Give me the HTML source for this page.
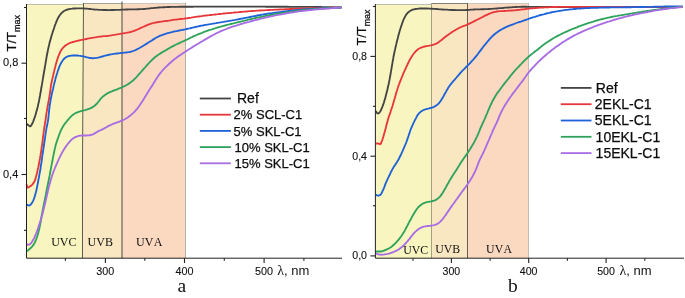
<!DOCTYPE html>
<html><head><meta charset="utf-8"><title>UV transmittance</title>
<style>html,body{margin:0;padding:0;background:#fff}body{width:685px;height:298px;overflow:hidden}</style>
</head><body>
<svg width="685" height="298" viewBox="0 0 685 298" style="display:block">
<rect width="685" height="298" fill="#fff"/>
<rect x="26.5" y="4" width="56.5" height="254.2" fill="#f8f5c0"/>
<rect x="83.0" y="3" width="39.0" height="255.2" fill="#f9e7c2"/>
<rect x="122.0" y="3" width="63.5" height="255.2" fill="#fbd8c0"/>
<path d="M26.5,4.5 H83.0" stroke="#bdbdb0" stroke-width="1" fill="none"/>
<path d="M83.0,3.5 H122.0" stroke="#a3a198" stroke-width="1" fill="none"/>
<path d="M122.0,3.5 H185.5" stroke="#cdc6bd" stroke-width="1" fill="none"/>
<path d="M83.5,3 L82.5,160 V258.2" stroke="#5e5b4e" stroke-width="1" fill="none"/>
<path d="M122,1.5 V258.2" stroke="#4a463c" stroke-width="1" fill="none"/>
<path d="M185.5,3 V258.2" stroke="#b5b0ab" stroke-width="1" fill="none"/>
<path d="M26.7,123.7 27.7,124.8 29.0,125.7 30.3,126.4 31.2,125.6 32.0,124.0 32.7,122.7 33.3,121.3 33.8,119.9 34.3,118.5 34.8,117.1 35.3,115.6 35.7,114.2 36.1,112.8 36.5,111.3 36.9,109.9 37.3,108.4 37.7,107.0 38.0,105.5 38.3,104.0 38.7,102.6 39.0,101.1 39.3,99.6 39.5,98.2 39.8,96.7 40.1,95.2 40.3,93.7 40.6,92.3 40.9,90.8 41.1,89.3 41.4,87.8 41.6,86.3 41.9,84.9 42.1,83.4 42.4,81.9 42.6,80.4 42.9,78.9 43.1,77.5 43.4,76.0 43.6,74.5 43.9,73.0 44.1,71.5 44.4,70.1 44.6,68.6 44.9,67.1 45.1,65.6 45.4,64.2 45.6,62.7 45.9,61.2 46.1,59.7 46.4,58.2 46.6,56.8 46.9,55.3 47.2,53.8 47.5,52.3 47.8,50.9 48.1,49.4 48.4,47.9 48.7,46.5 49.1,45.0 49.4,43.5 49.8,42.1 50.2,40.6 50.6,39.2 51.0,37.8 51.4,36.3 51.8,34.9 52.3,33.5 52.7,32.0 53.2,30.6 53.7,29.2 54.2,27.8 54.6,26.3 55.1,24.9 55.7,23.5 56.2,22.1 56.8,20.7 57.4,19.4 58.1,18.0 58.8,16.7 59.6,15.5 60.5,14.3 61.5,13.2 62.5,12.2 63.7,11.3 65.0,10.5 66.3,9.9 67.7,9.5 69.1,9.1 70.6,8.8 72.1,8.7 73.6,8.5 75.1,8.5 76.6,8.4 78.1,8.4 79.6,8.4 81.1,8.4 82.6,8.4 84.1,8.5 85.6,8.6 87.1,8.7 88.6,8.8 90.0,9.0 91.5,9.2 93.0,9.3 94.5,9.5 96.0,9.6 97.5,9.7 99.0,9.8 100.5,9.8 102.0,9.9 103.5,10.0 105.0,10.0 106.5,10.0 108.0,10.1 109.5,10.1 111.0,10.0 112.5,10.0 114.0,10.0 115.5,9.9 117.0,9.9 118.5,9.8 120.0,9.8 121.5,9.7 123.0,9.6 124.5,9.6 126.0,9.5 127.5,9.5 129.0,9.4 130.5,9.4 132.0,9.4 133.5,9.3 135.0,9.3 136.5,9.3 138.0,9.2 139.5,9.2 141.0,9.1 142.5,9.1 144.0,9.0 145.5,8.9 147.0,8.7 148.5,8.6 150.0,8.4 151.4,8.2 152.9,8.1 154.4,7.9 155.9,7.8 157.4,7.6 158.9,7.5 160.4,7.4 161.9,7.3 163.4,7.2 164.9,7.2 166.4,7.1 167.9,7.0 169.4,7.0 170.9,6.9 172.4,6.9 173.9,6.8 175.4,6.8 176.9,6.8 178.4,6.8 179.9,6.7 181.4,6.7 182.9,6.7 184.4,6.7 185.9,6.7 187.4,6.7 188.9,6.7 190.4,6.7 191.9,6.7 193.4,6.7 194.9,6.6 196.4,6.6 197.9,6.6 199.4,6.6 200.9,6.6 202.4,6.6 203.9,6.6 205.4,6.6 206.9,6.6 208.4,6.6 209.9,6.6 211.4,6.6 212.9,6.6 214.4,6.6 215.9,6.6 217.4,6.6 218.9,6.6 220.4,6.6 221.9,6.6 223.4,6.6 224.9,6.6 226.4,6.6 227.9,6.6 229.4,6.6 230.9,6.6 232.4,6.6 233.9,6.6 235.4,6.6 236.9,6.6 238.4,6.6 239.9,6.6 241.4,6.6 242.9,6.6 244.4,6.6 245.9,6.6 247.4,6.6 248.9,6.6 250.4,6.6 251.9,6.6 253.4,6.6 254.9,6.6 256.4,6.6 257.9,6.6 259.4,6.6 260.9,6.6 262.4,6.6 263.9,6.6 265.4,6.7 266.9,6.7 268.4,6.7 269.9,6.7 271.4,6.7 272.9,6.7 274.4,6.7 275.9,6.7 277.4,6.7 278.9,6.7 280.4,6.7 281.9,6.7 283.4,6.7 284.9,6.7 286.4,6.7 287.9,6.7 289.4,6.8 290.9,6.8 292.4,6.8 293.9,6.8 295.4,6.8 296.9,6.8 298.4,6.8 299.9,6.8 301.4,6.8 302.9,6.8 304.4,6.9 305.9,6.9 307.4,6.9 308.9,6.9 310.4,6.9 311.9,6.9 313.4,6.9 314.9,7.0 316.4,7.0 317.9,7.0 319.4,7.0 320.9,7.0 322.4,7.1 323.9,7.1 325.4,7.1 326.9,7.1 328.4,7.1 329.9,7.2 331.4,7.2 332.9,7.2 334.4,7.3 335.9,7.3 337.4,7.3 338.9,7.3 340.4,7.4 341.4,7.4" fill="none" stroke="#444444" stroke-width="1.85" stroke-linejoin="round"/>
<path d="M26.7,184.3 27.0,186.5 27.6,187.6 28.6,187.3 29.9,186.4 31.2,185.6 32.3,184.6 33.2,183.4 34.1,182.1 34.8,180.8 35.3,179.4 35.7,178.0 36.1,176.6 36.5,175.1 36.9,173.6 37.2,172.2 37.5,170.7 37.8,169.2 38.2,167.7 38.5,166.3 38.8,164.8 39.1,163.3 39.3,161.9 39.6,160.4 39.9,158.9 40.1,157.4 40.4,155.9 40.6,154.5 40.9,153.0 41.1,151.5 41.3,150.0 41.5,148.5 41.7,147.0 42.0,145.6 42.2,144.1 42.4,142.6 42.6,141.1 42.7,139.6 42.9,138.1 43.1,136.6 43.3,135.1 43.5,133.6 43.7,132.1 43.8,130.7 44.1,129.2 44.3,127.7 44.5,126.2 44.8,124.7 45.0,123.3 45.3,121.8 45.5,120.3 45.7,118.8 45.9,117.3 46.1,115.8 46.3,114.3 46.5,112.9 46.8,111.4 47.0,109.9 47.3,108.4 47.5,106.9 47.8,105.5 48.1,104.0 48.4,102.5 48.6,101.0 48.9,99.6 49.2,98.1 49.4,96.6 49.6,95.1 49.9,93.6 50.1,92.1 50.3,90.7 50.5,89.2 50.7,87.7 50.9,86.2 51.1,84.7 51.4,83.2 51.7,81.8 52.0,80.3 52.4,78.8 52.7,77.4 53.1,75.9 53.4,74.5 53.7,73.0 54.1,71.5 54.4,70.1 54.8,68.6 55.2,67.2 55.5,65.7 55.9,64.3 56.3,62.8 56.7,61.4 57.2,59.9 57.6,58.5 58.1,57.1 58.6,55.7 59.2,54.3 59.8,52.9 60.4,51.6 61.2,50.3 62.0,49.0 62.9,47.9 64.0,46.8 65.1,45.8 66.3,45.0 67.5,44.2 68.9,43.5 70.2,42.9 71.6,42.4 73.1,42.0 74.5,41.6 76.0,41.2 77.4,40.8 78.9,40.5 80.4,40.2 81.8,39.9 83.3,39.6 84.8,39.3 86.3,39.0 87.7,38.7 89.2,38.4 90.7,38.1 92.1,37.8 93.6,37.6 95.1,37.3 96.6,37.1 98.0,36.8 99.5,36.6 100.9,36.5 102.3,36.3 103.7,36.2 105.2,36.1 106.7,36.0 108.2,35.8 109.6,35.6 111.1,35.4 112.6,35.1 114.1,34.9 115.6,34.6 117.1,34.4 118.5,34.1 120.0,33.9 121.5,33.6 123.0,33.4 124.5,33.1 126.0,32.9 127.4,32.6 128.9,32.3 130.4,32.0 131.8,31.6 133.2,31.2 134.6,30.7 136.0,30.1 137.4,29.5 138.8,28.9 140.1,28.2 141.5,27.6 142.9,27.0 144.2,26.4 145.6,25.8 147.0,25.2 148.4,24.7 149.8,24.2 151.2,23.7 152.7,23.2 154.1,22.9 155.6,22.5 157.0,22.3 158.5,22.0 160.0,21.8 161.5,21.6 163.0,21.4 164.5,21.2 166.0,21.0 167.4,20.8 168.9,20.6 170.4,20.4 171.9,20.1 173.4,19.9 174.9,19.7 176.4,19.6 177.9,19.4 179.3,19.2 180.8,19.0 182.3,18.8 183.8,18.7 185.3,18.5 186.8,18.3 188.3,18.0 189.8,17.8 191.2,17.6 192.7,17.3 194.2,17.1 195.7,16.9 197.2,16.7 198.7,16.5 200.2,16.3 201.6,16.1 203.1,15.9 204.6,15.7 206.1,15.5 207.6,15.3 209.1,15.2 210.6,15.0 212.1,14.8 213.6,14.7 215.1,14.5 216.5,14.3 218.0,14.2 219.5,14.0 221.0,13.8 222.5,13.7 224.0,13.5 225.5,13.4 227.0,13.2 228.5,13.1 230.0,13.0 231.5,12.8 233.0,12.7 234.5,12.5 236.0,12.4 237.5,12.3 239.0,12.1 240.5,12.0 241.9,11.9 243.4,11.7 244.9,11.6 246.4,11.5 247.9,11.4 249.4,11.2 250.9,11.1 252.4,11.0 253.9,10.9 255.4,10.8 256.9,10.7 258.4,10.6 259.9,10.5 261.4,10.4 262.9,10.3 264.4,10.3 265.9,10.2 267.4,10.1 268.9,10.0 270.4,9.9 271.9,9.9 273.4,9.8 274.9,9.7 276.4,9.6 277.9,9.6 279.4,9.5 280.9,9.4 282.4,9.4 283.9,9.3 285.4,9.2 286.9,9.2 288.4,9.1 289.9,9.0 291.4,9.0 292.9,8.9 294.4,8.8 295.9,8.8 297.4,8.7 298.9,8.6 300.4,8.6 301.9,8.5 303.4,8.5 304.9,8.4 306.4,8.4 307.9,8.3 309.4,8.3 310.9,8.2 312.4,8.2 313.9,8.1 315.4,8.1 316.9,8.0 318.4,8.0 319.9,8.0 321.4,7.9 322.9,7.9 324.4,7.8 325.9,7.8 327.4,7.8 328.9,7.7 330.4,7.7 331.9,7.7 333.4,7.6 334.9,7.6 336.4,7.6 337.9,7.6 339.4,7.5 340.9,7.5 341.4,7.5" fill="none" stroke="#e8373b" stroke-width="1.85" stroke-linejoin="round"/>
<path d="M26.7,204.5 28.1,205.4 29.4,205.5 30.6,204.7 31.6,203.4 32.4,202.2 33.1,200.8 33.7,199.4 34.2,198.0 34.7,196.6 35.1,195.1 35.5,193.7 35.9,192.2 36.3,190.8 36.6,189.3 36.9,187.9 37.2,186.4 37.5,184.9 37.8,183.4 38.1,182.0 38.3,180.5 38.6,179.0 38.9,177.5 39.1,176.1 39.4,174.6 39.7,173.1 40.0,171.6 40.2,170.2 40.5,168.7 40.7,167.2 40.9,165.7 41.1,164.2 41.4,162.7 41.6,161.3 41.8,159.8 42.0,158.3 42.2,156.8 42.4,155.3 42.7,153.8 42.9,152.3 43.1,150.9 43.3,149.4 43.6,147.9 43.8,146.4 44.0,144.9 44.2,143.4 44.4,142.0 44.7,140.5 44.9,139.0 45.1,137.5 45.3,136.0 45.5,134.5 45.7,133.0 45.9,131.6 46.2,130.1 46.4,128.6 46.7,127.1 47.0,125.7 47.3,124.2 47.6,122.7 47.9,121.2 48.1,119.8 48.3,118.3 48.5,116.8 48.6,115.3 48.8,113.8 48.9,112.3 49.1,110.8 49.2,109.3 49.4,107.8 49.6,106.4 49.8,104.9 50.1,103.4 50.3,101.9 50.6,100.4 50.8,99.0 51.1,97.5 51.4,96.0 51.7,94.5 52.0,93.1 52.4,91.6 52.7,90.2 53.1,88.7 53.4,87.2 53.7,85.8 54.1,84.3 54.4,82.8 54.8,81.4 55.2,79.9 55.5,78.5 55.9,77.0 56.4,75.6 56.8,74.2 57.3,72.7 57.7,71.3 58.2,69.9 58.7,68.5 59.2,67.1 59.8,65.7 60.4,64.3 61.1,63.0 61.8,61.7 62.7,60.5 63.6,59.3 64.7,58.3 65.8,57.4 67.1,56.7 68.4,56.2 69.9,55.8 71.3,55.6 72.8,55.5 74.3,55.4 75.8,55.5 77.3,55.5 78.8,55.7 80.3,55.8 81.7,56.1 83.2,56.4 84.7,56.7 86.1,57.1 87.6,57.4 89.1,57.8 90.5,58.0 92.0,58.2 93.5,58.2 94.9,58.1 96.4,57.9 97.9,57.7 99.3,57.3 100.8,56.9 102.2,56.5 103.6,56.1 105.1,55.7 106.6,55.3 108.0,55.0 109.5,54.7 111.0,54.4 112.4,54.2 113.9,53.9 115.4,53.7 116.9,53.5 118.4,53.3 119.9,53.1 121.4,52.9 122.9,52.8 124.3,52.6 125.8,52.5 127.3,52.3 128.8,52.1 130.3,51.8 131.7,51.5 133.1,51.0 134.5,50.5 135.9,49.9 137.2,49.2 138.6,48.5 139.9,47.8 141.2,47.0 142.5,46.3 143.7,45.5 145.0,44.7 146.3,43.9 147.6,43.1 148.8,42.3 150.1,41.5 151.4,40.7 152.6,39.9 153.9,39.1 155.2,38.3 156.5,37.5 157.8,36.9 159.1,36.2 160.5,35.6 161.9,35.1 163.3,34.5 164.7,34.1 166.2,33.6 167.6,33.2 169.1,32.8 170.5,32.4 172.0,32.1 173.4,31.7 174.9,31.4 176.4,31.1 177.8,30.8 179.3,30.5 180.8,30.2 182.3,30.0 183.7,29.7 185.2,29.4 186.7,29.0 188.1,28.7 189.6,28.4 191.0,28.0 192.5,27.7 194.0,27.3 195.4,27.0 196.9,26.6 198.4,26.3 199.8,26.0 201.3,25.7 202.8,25.5 204.2,25.2 205.7,24.9 207.2,24.6 208.7,24.4 210.1,24.1 211.6,23.9 213.1,23.6 214.6,23.3 216.1,23.1 217.5,22.8 219.0,22.6 220.5,22.4 222.0,22.1 223.5,21.9 224.9,21.6 226.4,21.4 227.9,21.1 229.4,20.9 230.9,20.6 232.3,20.4 233.8,20.1 235.3,19.9 236.8,19.6 238.2,19.3 239.7,19.0 241.2,18.7 242.7,18.5 244.1,18.2 245.6,17.9 247.1,17.6 248.5,17.3 250.0,17.0 251.5,16.7 252.9,16.4 254.4,16.1 255.9,15.8 257.4,15.5 258.8,15.2 260.3,15.0 261.8,14.7 263.3,14.5 264.7,14.2 266.2,14.0 267.7,13.7 269.2,13.5 270.7,13.3 272.2,13.1 273.6,12.9 275.1,12.7 276.6,12.5 278.1,12.3 279.6,12.1 281.1,11.9 282.6,11.7 284.1,11.5 285.5,11.4 287.0,11.2 288.5,11.0 290.0,10.8 291.5,10.7 293.0,10.5 294.5,10.4 296.0,10.2 297.5,10.0 299.0,9.9 300.5,9.8 302.0,9.6 303.5,9.5 304.9,9.4 306.4,9.2 307.9,9.1 309.4,9.0 310.9,8.9 312.4,8.8 313.9,8.7 315.4,8.6 316.9,8.5 318.4,8.4 319.9,8.4 321.4,8.3 322.9,8.2 324.4,8.1 325.9,8.1 327.4,8.0 328.9,7.9 330.4,7.9 331.9,7.8 333.4,7.8 334.9,7.7 336.4,7.7 337.9,7.6 339.4,7.6 340.9,7.5 341.4,7.5" fill="none" stroke="#1d62d9" stroke-width="1.85" stroke-linejoin="round"/>
<path d="M26.7,251.3 27.9,250.4 29.1,249.4 30.2,248.5 31.3,247.4 32.3,246.3 33.2,245.1 34.1,243.9 34.8,242.6 35.4,241.2 36.0,239.8 36.5,238.4 37.0,237.0 37.5,235.5 37.9,234.1 38.3,232.7 38.7,231.2 39.0,229.8 39.4,228.3 39.7,226.8 40.0,225.4 40.3,223.9 40.6,222.4 40.9,220.9 41.1,219.5 41.4,218.0 41.6,216.5 41.8,215.0 42.1,213.5 42.4,212.1 42.6,210.6 42.9,209.1 43.2,207.6 43.5,206.2 43.8,204.7 44.1,203.2 44.4,201.7 44.7,200.3 45.0,198.8 45.3,197.3 45.6,195.9 45.9,194.4 46.1,192.9 46.4,191.4 46.7,190.0 47.0,188.5 47.3,187.0 47.6,185.5 47.9,184.1 48.2,182.6 48.5,181.1 48.8,179.7 49.1,178.2 49.4,176.7 49.7,175.2 49.9,173.8 50.2,172.3 50.5,170.8 50.8,169.3 51.0,167.9 51.3,166.4 51.6,164.9 51.9,163.4 52.2,162.0 52.5,160.5 52.7,159.0 53.0,157.5 53.3,156.1 53.6,154.6 53.9,153.1 54.2,151.6 54.5,150.2 54.8,148.7 55.2,147.2 55.5,145.8 55.9,144.3 56.4,142.9 56.8,141.5 57.3,140.1 57.8,138.6 58.3,137.2 58.8,135.8 59.3,134.4 59.8,133.0 60.4,131.6 61.0,130.2 61.7,128.9 62.4,127.6 63.1,126.3 63.9,125.0 64.8,123.8 65.7,122.6 66.7,121.5 67.6,120.3 68.6,119.1 69.6,118.0 70.6,116.9 71.7,115.9 72.8,114.9 74.0,114.0 75.3,113.3 76.6,112.6 78.0,112.1 79.4,111.6 80.8,111.2 82.3,110.8 83.7,110.4 85.2,110.1 86.6,109.7 88.1,109.2 89.5,108.7 90.8,108.1 92.1,107.4 93.4,106.6 94.6,105.7 95.7,104.7 96.8,103.7 97.7,102.5 98.7,101.4 99.6,100.2 100.5,99.0 101.5,97.9 102.6,96.9 103.7,95.9 104.9,95.0 106.1,94.2 107.4,93.4 108.8,92.7 110.1,92.1 111.5,91.5 112.9,90.9 114.3,90.3 115.7,89.8 117.1,89.3 118.5,88.7 119.9,88.2 121.3,87.6 122.6,87.0 124.0,86.4 125.3,85.7 126.6,85.0 127.9,84.2 129.2,83.4 130.4,82.5 131.6,81.6 132.8,80.7 133.9,79.7 134.9,78.6 136.0,77.6 137.0,76.5 138.0,75.4 139.0,74.2 140.0,73.1 141.0,72.0 142.0,70.9 143.0,69.7 144.0,68.6 145.0,67.5 146.0,66.3 147.0,65.2 148.0,64.1 149.0,63.0 150.0,61.9 151.1,60.8 152.1,59.8 153.3,58.8 154.4,57.8 155.5,56.8 156.7,55.9 157.9,55.0 159.2,54.2 160.4,53.4 161.7,52.6 163.0,51.8 164.3,51.1 165.6,50.3 166.9,49.6 168.2,48.8 169.5,48.1 170.8,47.3 172.1,46.6 173.5,45.9 174.8,45.2 176.1,44.5 177.5,43.9 178.8,43.3 180.2,42.6 181.6,42.0 182.9,41.4 184.3,40.8 185.7,40.1 187.0,39.5 188.4,38.8 189.7,38.2 191.1,37.5 192.4,36.9 193.8,36.2 195.2,35.6 196.5,35.0 197.9,34.4 199.3,33.8 200.7,33.3 202.1,32.8 203.5,32.2 204.9,31.7 206.3,31.2 207.7,30.7 209.2,30.2 210.6,29.7 212.0,29.3 213.4,28.8 214.9,28.4 216.3,27.9 217.7,27.5 219.2,27.1 220.6,26.7 222.1,26.3 223.5,25.9 225.0,25.5 226.4,25.1 227.9,24.7 229.3,24.4 230.8,24.0 232.2,23.6 233.7,23.3 235.1,22.9 236.6,22.6 238.1,22.2 239.5,21.8 241.0,21.5 242.4,21.1 243.9,20.8 245.4,20.4 246.8,20.1 248.3,19.7 249.7,19.4 251.2,19.0 252.7,18.7 254.1,18.4 255.6,18.0 257.1,17.7 258.5,17.4 260.0,17.1 261.5,16.8 262.9,16.5 264.4,16.2 265.9,15.9 267.4,15.6 268.8,15.3 270.3,15.0 271.8,14.8 273.3,14.5 274.7,14.2 276.2,14.0 277.7,13.7 279.2,13.5 280.7,13.2 282.1,13.0 283.6,12.8 285.1,12.5 286.6,12.3 288.1,12.1 289.6,11.9 291.0,11.7 292.5,11.5 294.0,11.3 295.5,11.1 297.0,10.9 298.5,10.7 300.0,10.6 301.5,10.4 303.0,10.2 304.5,10.1 306.0,9.9 307.4,9.8 308.9,9.6 310.4,9.5 311.9,9.4 313.4,9.2 314.9,9.1 316.4,9.0 317.9,8.9 319.4,8.8 320.9,8.7 322.4,8.6 323.9,8.5 325.4,8.4 326.9,8.3 328.4,8.2 329.9,8.1 331.4,8.0 332.9,7.9 334.4,7.8 335.9,7.8 337.4,7.7 338.9,7.6 340.4,7.5 341.4,7.5" fill="none" stroke="#2fa35c" stroke-width="1.85" stroke-linejoin="round"/>
<path d="M26.7,243.6 27.7,244.9 29.0,244.7 30.3,243.9 31.3,242.8 32.2,241.6 32.9,240.2 33.7,238.9 34.4,237.6 35.0,236.2 35.6,234.8 36.2,233.4 36.7,232.0 37.2,230.6 37.7,229.2 38.2,227.8 38.7,226.4 39.1,224.9 39.6,223.5 40.0,222.1 40.5,220.6 40.9,219.2 41.3,217.7 41.7,216.3 42.2,214.9 42.6,213.4 43.0,212.0 43.3,210.5 43.7,209.1 44.1,207.6 44.4,206.2 44.8,204.7 45.1,203.2 45.4,201.8 45.8,200.3 46.1,198.8 46.5,197.4 46.8,195.9 47.1,194.4 47.5,193.0 47.8,191.5 48.1,190.1 48.5,188.6 48.8,187.1 49.2,185.7 49.6,184.2 50.0,182.8 50.4,181.3 50.8,179.9 51.2,178.5 51.7,177.0 52.1,175.6 52.6,174.2 53.1,172.8 53.6,171.4 54.2,170.0 54.7,168.6 55.3,167.2 55.9,165.8 56.5,164.4 57.1,163.0 57.7,161.7 58.3,160.3 58.9,158.9 59.6,157.6 60.2,156.2 60.9,154.9 61.6,153.6 62.3,152.3 63.1,150.9 63.8,149.7 64.6,148.4 65.5,147.1 66.3,145.9 67.2,144.7 68.1,143.5 69.1,142.3 70.1,141.2 71.1,140.1 72.2,139.1 73.4,138.2 74.6,137.4 75.9,136.8 77.3,136.3 78.7,135.9 80.2,135.7 81.7,135.6 83.2,135.5 84.7,135.5 86.2,135.5 87.7,135.4 89.2,135.3 90.6,135.0 92.0,134.7 93.4,134.1 94.7,133.4 95.9,132.6 97.2,131.9 98.5,131.1 99.8,130.5 101.1,129.9 102.4,129.3 103.8,128.6 105.1,127.9 106.4,127.2 107.7,126.4 109.0,125.7 110.4,125.1 111.7,124.5 113.1,123.9 114.5,123.3 115.9,122.8 117.3,122.3 118.7,121.8 120.1,121.3 121.5,120.7 122.9,120.1 124.3,119.5 125.6,118.8 126.9,118.0 128.1,117.2 129.3,116.3 130.5,115.4 131.6,114.4 132.8,113.4 133.9,112.4 134.9,111.3 135.9,110.2 136.9,109.1 137.8,107.9 138.7,106.7 139.5,105.5 140.4,104.2 141.2,103.0 142.0,101.7 142.8,100.5 143.7,99.2 144.4,97.9 145.2,96.6 146.0,95.4 146.8,94.1 147.6,92.8 148.4,91.5 149.1,90.2 149.9,89.0 150.7,87.7 151.6,86.4 152.4,85.2 153.2,83.9 154.0,82.6 154.8,81.3 155.6,80.1 156.4,78.8 157.2,77.5 158.0,76.3 158.8,75.1 159.7,73.9 160.7,72.7 161.6,71.5 162.6,70.4 163.6,69.3 164.7,68.2 165.7,67.1 166.8,66.1 167.9,65.0 168.9,64.0 170.1,63.0 171.2,62.0 172.3,61.0 173.5,60.0 174.6,59.1 175.8,58.2 177.0,57.3 178.2,56.4 179.5,55.6 180.7,54.7 181.9,53.9 183.2,53.0 184.5,52.2 185.7,51.4 187.0,50.6 188.2,49.8 189.5,49.0 190.8,48.2 192.1,47.4 193.3,46.6 194.6,45.8 195.9,45.0 197.2,44.2 198.5,43.5 199.7,42.7 201.0,41.9 202.3,41.2 203.6,40.4 204.9,39.6 206.2,38.9 207.5,38.1 208.8,37.4 210.1,36.6 211.4,35.9 212.7,35.2 214.0,34.5 215.4,33.8 216.7,33.1 218.0,32.5 219.4,31.9 220.8,31.2 222.1,30.6 223.5,30.1 224.9,29.5 226.3,29.0 227.7,28.4 229.1,27.9 230.5,27.4 231.9,26.9 233.3,26.4 234.8,26.0 236.2,25.5 237.6,25.1 239.1,24.6 240.5,24.2 241.9,23.8 243.4,23.4 244.8,22.9 246.3,22.5 247.7,22.1 249.2,21.8 250.6,21.4 252.1,21.0 253.5,20.6 255.0,20.2 256.4,19.8 257.9,19.5 259.3,19.1 260.8,18.7 262.2,18.4 263.7,18.0 265.1,17.7 266.6,17.3 268.1,17.0 269.5,16.7 271.0,16.4 272.5,16.0 273.9,15.7 275.4,15.4 276.9,15.1 278.4,14.9 279.8,14.6 281.3,14.3 282.8,14.0 284.3,13.8 285.7,13.5 287.2,13.2 288.7,13.0 290.2,12.7 291.7,12.5 293.1,12.3 294.6,12.1 296.1,11.8 297.6,11.6 299.1,11.4 300.6,11.2 302.0,11.0 303.5,10.8 305.0,10.7 306.5,10.5 308.0,10.3 309.5,10.2 311.0,10.0 312.5,9.8 314.0,9.7 315.5,9.6 317.0,9.4 318.5,9.3 320.0,9.2 321.4,9.0 322.9,8.9 324.4,8.8 325.9,8.7 327.4,8.6 328.9,8.5 330.4,8.3 331.9,8.2 333.4,8.1 334.9,8.0 336.4,7.9 337.9,7.8 339.4,7.7 340.9,7.5 341.4,7.5" fill="none" stroke="#a86ce4" stroke-width="1.85" stroke-linejoin="round"/>
<path d="M26.5,4 V258.2 H342" stroke="#222" stroke-width="1" fill="none"/>
<path d="M24.0,7.5 H26.5" stroke="#222" stroke-width="1.1"/>
<path d="M21.5,63.2 H26.5" stroke="#222" stroke-width="1.1"/>
<path d="M24.0,118.5 H26.5" stroke="#222" stroke-width="1.1"/>
<path d="M21.5,174.5 H26.5" stroke="#222" stroke-width="1.1"/>
<path d="M24.0,230.3 H26.5" stroke="#222" stroke-width="1.1"/>
<path d="M65.4,258.2 v2.5" stroke="#222" stroke-width="1.1"/>
<path d="M105.4,258.2 v4.8" stroke="#222" stroke-width="1.1"/>
<path d="M144.8,258.2 v2.5" stroke="#222" stroke-width="1.1"/>
<path d="M184.5,258.2 v4.8" stroke="#222" stroke-width="1.1"/>
<path d="M224.3,258.2 v2.5" stroke="#222" stroke-width="1.1"/>
<path d="M264.1,258.2 v4.8" stroke="#222" stroke-width="1.1"/>
<path d="M303.9,258.2 v2.5" stroke="#222" stroke-width="1.1"/>
<text x="18.3" y="66.1" font-size="11" text-anchor="end" font-family="Liberation Sans, Arial, sans-serif" fill="#111" stroke="#111" stroke-width="0.1">0,8</text>
<text x="18.3" y="177.6" font-size="11" text-anchor="end" font-family="Liberation Sans, Arial, sans-serif" fill="#111" stroke="#111" stroke-width="0.1">0,4</text>
<text transform="translate(15.9,51.5) rotate(-90)" font-size="13" font-family="Liberation Sans, Arial, sans-serif" fill="#0c0c0c" stroke="#0c0c0c" stroke-width="0.25">T/T<tspan font-size="9" dy="3.8">max</tspan></text>
<text x="105.2" y="275.3" font-size="10.8" text-anchor="middle" font-family="Liberation Sans, Arial, sans-serif" fill="#111" stroke="#111" stroke-width="0.1">300</text>
<text x="184.6" y="275.3" font-size="10.8" text-anchor="middle" font-family="Liberation Sans, Arial, sans-serif" fill="#111" stroke="#111" stroke-width="0.1">400</text>
<text x="264.1" y="275.3" font-size="10.8" text-anchor="middle" font-family="Liberation Sans, Arial, sans-serif" fill="#111" stroke="#111" stroke-width="0.1">500</text>
<text x="277.3" y="275.3" font-size="14" font-family="Liberation Serif, Times New Roman, serif" fill="#111">λ<tspan font-family="Liberation Sans, Arial, sans-serif" font-size="13">, nm</tspan></text>
<text x="181.8" y="292" font-size="19.5" text-anchor="middle" font-family="Liberation Serif, Times New Roman, serif" fill="#111">a</text>
<text x="51.2" y="245.8" font-size="12" font-family="Liberation Serif, Times New Roman, serif" fill="#111">UVC</text>
<text x="87.6" y="245.8" font-size="12" font-family="Liberation Serif, Times New Roman, serif" fill="#111">UVB</text>
<text x="136" y="245.8" font-size="12" style="font-kerning:none" letter-spacing="0.2" font-family="Liberation Serif, Times New Roman, serif" fill="#111">UVA</text>
<path d="M199.8,98.5 H230.9" stroke="#444444" stroke-width="1.8"/>
<text x="237.0" y="103.4" font-size="14" font-family="Liberation Sans, Arial, sans-serif" fill="#0c0c0c" stroke="#0c0c0c" stroke-width="0.25">Ref</text>
<path d="M199.8,114.7 H230.9" stroke="#e8373b" stroke-width="1.8"/>
<text x="233.6" y="119.3" font-size="13" font-family="Liberation Sans, Arial, sans-serif" fill="#0c0c0c" stroke="#0c0c0c" stroke-width="0.25">2% SCL-C1</text>
<path d="M199.8,130.9 H230.9" stroke="#1d62d9" stroke-width="1.8"/>
<text x="233.6" y="135.5" font-size="13" font-family="Liberation Sans, Arial, sans-serif" fill="#0c0c0c" stroke="#0c0c0c" stroke-width="0.25">5% SKL-C1</text>
<path d="M199.8,147.1 H230.9" stroke="#2fa35c" stroke-width="1.8"/>
<text x="234.5" y="151.7" font-size="13" font-family="Liberation Sans, Arial, sans-serif" fill="#0c0c0c" stroke="#0c0c0c" stroke-width="0.25">10% SKL-C1</text>
<path d="M199.8,163.3 H230.9" stroke="#a86ce4" stroke-width="1.8"/>
<text x="234.5" y="167.9" font-size="13" font-family="Liberation Sans, Arial, sans-serif" fill="#0c0c0c" stroke="#0c0c0c" stroke-width="0.25">15% SKL-C1</text>
<rect x="375.4" y="4" width="56.10000000000002" height="254.2" fill="#f8f5c0"/>
<rect x="431.5" y="3" width="36.0" height="255.2" fill="#f9e7c2"/>
<rect x="467.5" y="3" width="61.0" height="255.2" fill="#fbd8c0"/>
<path d="M375.4,4.5 H431.5" stroke="#bdbdb0" stroke-width="1" fill="none"/>
<path d="M431.5,3.5 H467.5" stroke="#7f7d75" stroke-width="1" fill="none"/>
<path d="M467.5,3.5 H528.5" stroke="#cdc6bd" stroke-width="1" fill="none"/>
<path d="M431.5,3 V258.2" stroke="#a5a085" stroke-width="1" fill="none"/>
<path d="M467.5,3 V258.2" stroke="#665c58" stroke-width="1" fill="none"/>
<path d="M528.5,3 V258.2" stroke="#c0bcb6" stroke-width="1" fill="none"/>
<path d="M375.7,111.0 376.7,112.8 377.8,113.5 378.9,113.2 379.9,112.0 380.7,110.8 381.3,109.4 381.9,107.9 382.5,106.5 383.0,105.1 383.5,103.7 384.0,102.3 384.4,100.8 384.8,99.4 385.3,98.0 385.6,96.5 386.0,95.1 386.4,93.6 386.8,92.1 387.1,90.7 387.5,89.2 387.8,87.8 388.1,86.3 388.5,84.8 388.8,83.4 389.1,81.9 389.4,80.4 389.7,78.9 389.9,77.5 390.2,76.0 390.5,74.5 390.7,73.0 391.0,71.5 391.2,70.1 391.5,68.6 391.7,67.1 392.0,65.6 392.2,64.1 392.5,62.7 392.7,61.2 393.0,59.7 393.3,58.2 393.5,56.8 393.8,55.3 394.1,53.8 394.4,52.3 394.7,50.9 395.1,49.4 395.4,47.9 395.7,46.5 396.1,45.0 396.4,43.6 396.8,42.1 397.1,40.6 397.5,39.2 397.9,37.7 398.2,36.3 398.6,34.8 399.0,33.4 399.4,31.9 399.8,30.5 400.3,29.0 400.7,27.6 401.2,26.2 401.7,24.7 402.2,23.3 402.7,21.9 403.2,20.5 403.8,19.1 404.5,17.7 405.2,16.4 405.9,15.1 406.8,13.9 407.7,12.8 408.8,11.9 410.0,11.0 411.3,10.3 412.6,9.7 414.1,9.3 415.5,9.0 417.0,8.8 418.5,8.6 420.0,8.5 421.5,8.5 423.0,8.5 424.5,8.5 426.0,8.5 427.5,8.5 429.0,8.6 430.5,8.7 432.0,8.7 433.5,8.8 435.0,8.9 436.5,9.0 438.0,9.1 439.5,9.3 441.0,9.4 442.5,9.5 444.0,9.6 445.5,9.6 447.0,9.7 448.5,9.8 450.0,9.9 451.5,10.0 453.0,10.0 454.5,10.0 456.0,10.1 457.5,10.1 459.0,10.1 460.5,10.1 462.0,10.1 463.5,10.1 465.0,10.1 466.5,10.0 468.0,10.0 469.5,9.9 471.0,9.7 472.5,9.6 474.0,9.5 475.5,9.4 477.0,9.4 478.5,9.3 480.0,9.3 481.5,9.2 483.0,9.2 484.5,9.2 486.0,9.1 487.5,9.1 489.0,9.0 490.5,8.9 492.0,8.8 493.5,8.7 495.0,8.6 496.5,8.5 498.0,8.4 499.5,8.2 501.0,8.1 502.4,8.0 503.9,7.8 505.4,7.7 506.9,7.6 508.4,7.5 509.9,7.4 511.4,7.3 512.9,7.2 514.4,7.1 515.9,7.0 517.4,6.9 518.9,6.8 520.4,6.8 521.9,6.7 523.4,6.7 524.9,6.7 526.4,6.7 527.9,6.8 529.4,6.8 530.9,6.8 532.4,6.9 533.9,6.9 535.4,6.9 536.9,7.0 538.4,7.0 539.9,7.0 541.4,7.0 542.9,7.0 544.5,7.0 546.0,7.0 547.5,7.0 549.0,7.0 550.5,7.0 552.0,7.0 553.5,7.0 555.0,7.0 556.5,7.0 558.0,7.0 559.5,7.0 561.0,7.0 562.5,7.0 564.0,7.0 565.5,7.0 567.0,7.0 568.5,7.0 570.0,7.0 571.5,7.0 573.0,7.0 574.5,7.0 576.0,7.0 577.5,7.0 579.0,7.0 580.5,7.0 582.0,7.0 583.5,7.0 585.0,7.0 586.5,7.0 588.0,7.0 589.5,7.0 591.0,7.0 592.5,7.0 594.0,7.0 595.5,7.0 597.0,7.0 598.5,7.0 600.0,7.0 601.5,7.0 603.0,7.0 604.5,7.0 606.0,7.0 607.5,7.0 609.0,7.0 610.5,7.0 612.0,7.0 613.5,7.0 615.0,7.0 616.5,7.0 618.0,7.0 619.5,7.0 621.0,7.0 622.5,7.0 624.0,7.0 625.5,7.0 627.0,7.0 628.5,7.0 630.0,7.0 631.5,7.0 633.0,7.0 634.5,7.0 636.0,7.0 637.6,7.0 639.1,7.0 640.6,7.0 642.1,7.0 643.6,7.0 645.1,7.0 646.6,7.0 648.1,7.0 649.6,7.0 651.1,7.0 652.6,7.0 654.1,7.0 655.6,7.0 657.1,7.0 658.6,7.0 660.1,7.0 661.6,7.0 663.1,7.0 664.6,7.0 666.1,7.0 667.6,7.0 669.1,7.0 670.6,7.0 672.1,7.0 673.6,7.0 675.1,7.0 676.6,7.0 678.1,7.0 679.6,7.0 681.1,7.0 682.6,7.0" fill="none" stroke="#444444" stroke-width="1.85" stroke-linejoin="round"/>
<path d="M375.7,143.5 377.2,143.5 378.7,143.6 380.1,144.2 381.0,143.5 381.5,141.9 382.1,140.5 382.6,139.1 383.0,137.6 383.5,136.2 383.9,134.8 384.3,133.3 384.7,131.9 385.1,130.4 385.5,129.0 385.9,127.5 386.2,126.1 386.6,124.6 387.0,123.2 387.4,121.7 387.8,120.3 388.2,118.8 388.6,117.4 389.1,116.0 389.6,114.6 390.1,113.2 390.6,111.7 391.0,110.3 391.5,108.9 392.0,107.5 392.5,106.0 392.9,104.6 393.3,103.2 393.7,101.7 394.1,100.3 394.6,98.8 395.0,97.4 395.4,95.9 395.8,94.5 396.2,93.1 396.6,91.6 397.1,90.2 397.5,88.8 398.0,87.3 398.4,85.9 399.0,84.5 399.5,83.1 400.0,81.7 400.6,80.3 401.2,78.9 401.7,77.5 402.3,76.1 402.8,74.8 403.4,73.4 404.0,72.0 404.6,70.6 405.3,69.3 405.9,67.9 406.5,66.5 407.2,65.2 407.8,63.8 408.5,62.5 409.1,61.1 409.8,59.8 410.5,58.5 411.3,57.2 412.1,55.9 412.9,54.7 413.8,53.5 414.8,52.3 415.8,51.2 416.9,50.2 418.0,49.3 419.3,48.5 420.6,47.8 421.9,47.3 423.4,46.8 424.8,46.5 426.3,46.2 427.8,45.9 429.2,45.7 430.7,45.4 432.2,45.1 433.6,44.7 435.0,44.2 436.3,43.6 437.6,42.9 438.9,42.0 440.0,41.1 441.2,40.2 442.4,39.2 443.6,38.3 444.7,37.3 445.9,36.4 447.1,35.5 448.3,34.7 449.6,33.8 450.8,33.0 452.0,32.1 453.3,31.3 454.6,30.5 455.8,29.7 457.1,29.0 458.5,28.3 459.8,27.6 461.2,27.0 462.6,26.4 464.0,25.9 465.4,25.4 466.8,24.8 468.1,24.2 469.5,23.6 470.8,22.9 472.2,22.3 473.5,21.6 474.8,20.9 476.2,20.2 477.5,19.5 478.9,18.9 480.2,18.2 481.5,17.5 482.9,16.8 484.2,16.1 485.5,15.4 486.9,14.8 488.3,14.2 489.6,13.6 491.0,13.0 492.4,12.5 493.9,12.1 495.3,11.8 496.8,11.5 498.3,11.4 499.8,11.2 501.3,11.1 502.8,11.1 504.3,11.0 505.8,10.9 507.3,10.8 508.8,10.7 510.3,10.6 511.8,10.5 513.2,10.4 514.7,10.3 516.2,10.1 517.7,10.0 519.2,9.8 520.7,9.6 522.2,9.4 523.7,9.3 525.2,9.1 526.7,8.9 528.2,8.7 529.6,8.6 531.1,8.4 532.6,8.3 534.1,8.1 535.6,8.0 537.1,7.9 538.6,7.8 540.1,7.7 541.6,7.6 543.1,7.5 544.6,7.4 546.1,7.3 547.6,7.2 549.1,7.2 550.6,7.1 552.1,7.1 553.6,7.0 555.1,7.0 556.6,7.0 558.1,6.9 559.6,6.9 561.1,6.9 562.6,6.9 564.1,6.9 565.6,6.9 567.1,6.9 568.6,6.9 570.1,6.9 571.6,6.9 573.1,6.9 574.6,6.9 576.1,6.9 577.6,6.9 579.1,6.9 580.6,7.0 582.1,7.0 583.6,7.0 585.1,7.0 586.6,7.0 588.1,7.0 589.6,7.0 591.1,7.0 592.6,7.0 594.1,7.0 595.6,7.0 597.1,7.0 598.6,7.0 600.1,7.0 601.6,7.0 603.1,7.0 604.6,7.0 606.1,7.0 607.6,7.0 609.1,7.0 610.6,7.0 612.1,7.0 613.6,7.0 615.1,7.0 616.6,7.0 618.1,7.0 619.6,7.0 621.1,7.0 622.6,7.0 624.1,7.0 625.6,7.0 627.1,7.0 628.6,7.0 630.1,7.0 631.6,7.0 633.1,7.0 634.6,7.0 636.1,7.0 637.6,7.0 639.1,7.0 640.6,7.0 642.1,7.0 643.6,7.0 645.1,7.0 646.6,7.0 648.1,7.0 649.6,7.0 651.1,7.0 652.6,7.0 654.1,7.0 655.6,7.0 657.1,7.0 658.6,7.0 660.1,7.0 661.6,7.0 663.1,7.0 664.6,7.0 666.1,7.0 667.6,7.0 669.1,7.0 670.6,7.0 672.1,7.0 673.6,7.0 675.1,7.0 676.6,7.0 678.1,7.0 679.6,7.0 681.1,7.0 682.6,7.0" fill="none" stroke="#e8373b" stroke-width="1.85" stroke-linejoin="round"/>
<path d="M375.7,194.4 377.0,195.4 378.4,195.7 379.8,195.2 380.8,194.4 381.6,193.2 382.3,191.7 383.0,190.2 383.6,188.8 384.2,187.4 384.7,186.0 385.2,184.6 385.8,183.2 386.3,181.8 387.0,180.4 387.6,179.1 388.3,177.7 388.9,176.4 389.6,175.0 390.2,173.7 390.8,172.3 391.5,171.0 392.2,169.6 392.9,168.4 393.7,167.1 394.5,165.8 395.4,164.6 396.2,163.3 397.0,162.0 397.7,160.8 398.5,159.5 399.2,158.1 399.9,156.8 400.5,155.5 401.2,154.1 401.8,152.7 402.4,151.4 403.0,150.0 403.6,148.6 404.2,147.2 404.8,145.9 405.4,144.5 406.0,143.1 406.5,141.7 407.0,140.3 407.5,138.9 408.0,137.5 408.5,136.0 408.9,134.6 409.4,133.2 409.9,131.8 410.4,130.3 410.9,128.9 411.5,127.5 412.1,126.2 412.7,124.8 413.3,123.4 414.0,122.1 414.6,120.7 415.3,119.4 416.0,118.1 416.7,116.7 417.4,115.4 418.3,114.2 419.2,113.1 420.3,112.1 421.4,111.2 422.7,110.5 424.0,109.8 425.4,109.4 426.9,108.9 428.3,108.6 429.8,108.2 431.2,107.8 432.7,107.4 434.0,106.8 435.3,106.1 436.6,105.3 437.7,104.4 438.8,103.3 439.7,102.2 440.6,101.0 441.4,99.8 442.2,98.5 443.0,97.2 443.7,95.9 444.4,94.5 445.1,93.2 445.9,91.9 446.6,90.6 447.4,89.3 448.1,88.0 448.9,86.8 449.8,85.5 450.7,84.3 451.6,83.2 452.6,82.0 453.5,80.9 454.5,79.8 455.5,78.6 456.5,77.5 457.5,76.3 458.5,75.2 459.4,74.1 460.4,72.9 461.4,71.8 462.5,70.7 463.5,69.7 464.6,68.6 465.6,67.5 466.7,66.5 467.8,65.4 468.8,64.4 469.9,63.3 470.9,62.2 471.9,61.1 472.9,60.0 473.9,58.9 474.9,57.7 475.8,56.6 476.8,55.4 477.7,54.2 478.6,53.0 479.5,51.8 480.4,50.6 481.3,49.4 482.2,48.2 483.1,47.0 484.0,45.8 485.0,44.7 485.9,43.5 486.9,42.3 487.9,41.2 488.8,40.1 489.8,38.9 490.8,37.8 491.9,36.7 492.9,35.7 494.0,34.7 495.2,33.7 496.4,32.8 497.6,31.9 498.8,31.1 500.1,30.3 501.4,29.5 502.7,28.8 504.0,28.1 505.4,27.4 506.7,26.8 508.1,26.2 509.5,25.7 510.9,25.1 512.3,24.6 513.7,24.1 515.1,23.5 516.5,23.0 517.9,22.5 519.4,22.0 520.8,21.6 522.2,21.1 523.6,20.6 525.0,20.1 526.5,19.6 527.9,19.2 529.3,18.7 530.7,18.2 532.2,17.7 533.6,17.2 535.0,16.8 536.4,16.3 537.9,15.9 539.3,15.4 540.7,15.0 542.2,14.6 543.6,14.3 545.1,13.9 546.6,13.5 548.0,13.2 549.5,12.9 550.9,12.5 552.4,12.2 553.9,11.9 555.3,11.6 556.8,11.3 558.3,11.1 559.8,10.8 561.2,10.6 562.7,10.4 564.2,10.1 565.7,9.9 567.2,9.8 568.7,9.6 570.2,9.4 571.6,9.3 573.1,9.1 574.6,9.0 576.1,8.9 577.6,8.7 579.1,8.6 580.6,8.5 582.1,8.4 583.6,8.3 585.1,8.2 586.6,8.1 588.1,8.1 589.6,8.0 591.1,7.9 592.6,7.9 594.1,7.8 595.6,7.8 597.1,7.7 598.6,7.7 600.1,7.6 601.6,7.6 603.1,7.6 604.6,7.5 606.1,7.5 607.6,7.5 609.1,7.5 610.6,7.4 612.1,7.4 613.6,7.4 615.1,7.4 616.6,7.4 618.1,7.3 619.6,7.3 621.1,7.3 622.6,7.3 624.1,7.3 625.6,7.2 627.1,7.2 628.6,7.2 630.1,7.2 631.6,7.2 633.1,7.1 634.6,7.1 636.1,7.1 637.6,7.1 639.1,7.0 640.6,7.0 642.1,7.0 643.6,7.0 645.1,6.9 646.6,6.9 648.1,6.9 649.6,6.8 651.1,6.8 652.6,6.8 654.1,6.7 655.6,6.7 657.1,6.7 658.6,6.7 660.1,6.6 661.6,6.6 663.1,6.6 664.6,6.5 666.1,6.5 667.6,6.5 669.1,6.5 670.6,6.5 672.1,6.4 673.6,6.4 675.1,6.4 676.6,6.4 678.1,6.4 679.6,6.3 681.1,6.3 682.6,6.3" fill="none" stroke="#1d62d9" stroke-width="1.85" stroke-linejoin="round"/>
<path d="M375.7,251.5 377.2,251.5 378.7,251.5 380.2,251.5 381.7,251.4 383.1,251.0 384.5,250.4 385.9,249.8 387.3,249.2 388.7,248.5 390.0,247.7 391.2,246.9 392.4,246.0 393.5,245.0 394.6,244.0 395.7,242.9 396.7,241.8 397.7,240.7 398.7,239.6 399.6,238.4 400.5,237.2 401.4,236.0 402.2,234.7 403.0,233.5 403.8,232.2 404.6,230.9 405.3,229.6 406.0,228.3 406.7,226.9 407.4,225.6 408.1,224.3 408.8,222.9 409.4,221.6 410.2,220.3 410.9,219.0 411.6,217.6 412.3,216.3 413.1,215.0 413.8,213.7 414.6,212.4 415.4,211.2 416.2,209.9 417.1,208.7 418.0,207.5 419.1,206.5 420.2,205.5 421.3,204.6 422.6,203.8 423.9,203.1 425.3,202.6 426.7,202.2 428.2,201.9 429.7,201.6 431.1,201.4 432.6,201.0 434.0,200.6 435.4,200.1 436.7,199.4 437.9,198.6 438.9,197.6 440.0,196.6 440.9,195.4 441.8,194.1 442.6,192.9 443.4,191.6 444.2,190.3 444.9,189.0 445.7,187.7 446.4,186.3 447.1,185.0 447.8,183.7 448.6,182.4 449.3,181.1 450.1,179.8 450.8,178.5 451.6,177.2 452.4,175.9 453.2,174.7 454.0,173.4 454.9,172.2 455.7,170.9 456.5,169.7 457.3,168.4 458.1,167.1 458.9,165.9 459.7,164.6 460.5,163.3 461.3,162.0 462.1,160.8 463.0,159.6 463.8,158.3 464.7,157.1 465.6,155.9 466.4,154.6 467.3,153.4 468.1,152.2 468.9,150.9 469.7,149.6 470.5,148.4 471.3,147.1 472.1,145.8 472.8,144.5 473.6,143.2 474.3,141.9 475.0,140.6 475.7,139.2 476.4,137.9 477.0,136.5 477.6,135.2 478.2,133.8 478.8,132.4 479.4,131.0 479.9,129.6 480.5,128.2 481.1,126.8 481.7,125.5 482.3,124.1 482.9,122.7 483.6,121.4 484.2,120.0 484.8,118.6 485.4,117.3 486.0,115.9 486.6,114.5 487.2,113.1 487.7,111.7 488.3,110.3 488.9,109.0 489.5,107.6 490.1,106.2 490.7,104.8 491.4,103.5 492.0,102.1 492.7,100.8 493.4,99.5 494.1,98.2 494.9,96.9 495.7,95.6 496.5,94.3 497.3,93.1 498.2,91.9 499.1,90.7 500.0,89.5 500.9,88.2 501.8,87.0 502.7,85.8 503.6,84.6 504.5,83.4 505.4,82.3 506.4,81.1 507.3,80.0 508.3,78.8 509.2,77.6 510.1,76.4 511.0,75.2 512.0,74.1 512.9,72.9 513.9,71.8 514.9,70.7 515.9,69.5 516.9,68.4 518.0,67.4 519.0,66.3 520.0,65.2 521.1,64.1 522.1,63.0 523.2,61.9 524.2,60.9 525.3,59.8 526.4,58.8 527.5,57.7 528.6,56.7 529.7,55.8 530.9,54.8 532.0,53.9 533.2,52.9 534.4,52.0 535.6,51.1 536.8,50.2 538.0,49.3 539.1,48.3 540.3,47.4 541.4,46.4 542.6,45.5 543.8,44.6 545.0,43.7 546.2,42.8 547.5,42.0 548.7,41.2 550.0,40.4 551.2,39.6 552.5,38.8 553.8,38.0 555.1,37.3 556.4,36.6 557.7,35.9 559.1,35.2 560.4,34.5 561.7,33.8 563.1,33.2 564.4,32.5 565.8,31.9 567.2,31.3 568.5,30.7 569.9,30.1 571.3,29.5 572.7,28.9 574.1,28.4 575.5,27.8 576.9,27.3 578.3,26.7 579.7,26.2 581.1,25.7 582.5,25.2 583.9,24.6 585.3,24.2 586.7,23.7 588.2,23.2 589.6,22.7 591.0,22.3 592.4,21.8 593.9,21.4 595.3,20.9 596.8,20.5 598.2,20.1 599.6,19.7 601.1,19.3 602.5,19.0 604.0,18.6 605.5,18.3 606.9,17.9 608.4,17.6 609.9,17.3 611.3,17.0 612.8,16.7 614.3,16.4 615.7,16.1 617.2,15.9 618.7,15.6 620.2,15.3 621.6,15.1 623.1,14.8 624.6,14.6 626.1,14.3 627.6,14.1 629.0,13.8 630.5,13.6 632.0,13.4 633.5,13.1 635.0,12.9 636.5,12.7 637.9,12.4 639.4,12.2 640.9,12.0 642.4,11.7 643.9,11.5 645.4,11.3 646.8,11.0 648.3,10.8 649.8,10.6 651.3,10.4 652.8,10.2 654.3,10.0 655.8,9.8 657.2,9.6 658.7,9.4 660.2,9.2 661.7,9.0 663.2,8.9 664.7,8.7 666.2,8.5 667.7,8.4 669.2,8.2 670.7,8.0 672.2,7.9 673.6,7.7 675.1,7.5 676.6,7.4 678.1,7.2 679.6,7.0 681.1,6.9 682.6,6.7" fill="none" stroke="#2fa35c" stroke-width="1.85" stroke-linejoin="round"/>
<path d="M375.7,253.5 377.1,254.0 378.6,254.4 380.1,254.7 381.5,254.7 383.0,254.6 384.5,254.4 386.0,254.1 387.5,253.9 389.0,253.6 390.4,253.1 391.8,252.6 393.2,252.1 394.6,251.5 396.0,250.9 397.3,250.2 398.6,249.5 399.8,248.6 401.0,247.7 402.2,246.8 403.3,245.8 404.4,244.7 405.4,243.6 406.4,242.5 407.4,241.4 408.3,240.2 409.3,239.1 410.2,237.9 411.1,236.7 412.1,235.5 413.0,234.4 414.0,233.2 415.0,232.1 416.1,231.1 417.2,230.1 418.4,229.2 419.6,228.4 420.9,227.7 422.3,227.1 423.7,226.7 425.2,226.4 426.6,226.2 428.1,226.0 429.6,225.8 431.1,225.6 432.6,225.4 434.1,225.1 435.5,224.7 436.8,224.2 438.1,223.5 439.2,222.6 440.3,221.6 441.4,220.5 442.4,219.4 443.3,218.2 444.2,217.0 445.1,215.8 446.0,214.6 446.8,213.3 447.6,212.1 448.5,210.9 449.3,209.6 450.1,208.4 451.0,207.1 451.8,205.9 452.7,204.7 453.6,203.5 454.5,202.3 455.4,201.0 456.3,199.8 457.2,198.6 458.0,197.4 458.9,196.2 459.7,194.9 460.6,193.7 461.5,192.5 462.4,191.3 463.3,190.1 464.2,188.9 465.1,187.7 466.0,186.5 466.8,185.2 467.7,184.0 468.5,182.8 469.4,181.5 470.2,180.3 471.0,179.0 471.7,177.7 472.5,176.4 473.2,175.1 473.9,173.8 474.6,172.4 475.2,171.1 475.8,169.7 476.4,168.3 477.0,166.9 477.5,165.5 478.0,164.1 478.5,162.7 479.1,161.3 479.7,159.9 480.3,158.6 481.0,157.3 481.7,155.9 482.4,154.6 483.0,153.2 483.7,151.9 484.3,150.5 484.9,149.1 485.5,147.8 486.1,146.4 486.7,145.0 487.3,143.6 487.9,142.2 488.5,140.9 489.1,139.5 489.7,138.1 490.3,136.7 490.9,135.4 491.5,134.0 492.1,132.6 492.6,131.2 493.2,129.9 493.9,128.5 494.5,127.1 495.2,125.8 495.8,124.4 496.5,123.1 497.1,121.7 497.7,120.3 498.3,119.0 498.8,117.6 499.4,116.2 500.0,114.8 500.6,113.4 501.2,112.1 501.9,110.7 502.6,109.4 503.3,108.1 504.1,106.8 504.8,105.5 505.6,104.2 506.4,102.9 507.2,101.7 508.0,100.4 508.9,99.2 509.7,97.9 510.6,96.7 511.5,95.5 512.3,94.3 513.2,93.1 514.2,91.9 515.1,90.7 516.0,89.5 516.9,88.3 517.8,87.1 518.7,85.9 519.6,84.7 520.5,83.5 521.4,82.3 522.4,81.1 523.3,79.9 524.1,78.7 525.0,77.5 525.9,76.3 526.7,75.1 527.6,73.9 528.5,72.7 529.5,71.5 530.4,70.3 531.4,69.2 532.4,68.1 533.4,67.0 534.5,65.9 535.5,64.8 536.6,63.7 537.6,62.7 538.7,61.6 539.7,60.6 540.8,59.5 541.9,58.5 543.0,57.5 544.1,56.5 545.3,55.5 546.4,54.5 547.5,53.6 548.7,52.6 549.9,51.7 551.0,50.7 552.2,49.8 553.4,48.9 554.6,48.0 555.8,47.1 557.0,46.2 558.3,45.4 559.5,44.5 560.7,43.7 562.0,42.8 563.2,42.0 564.5,41.2 565.8,40.4 567.0,39.6 568.3,38.9 569.6,38.1 570.9,37.4 572.2,36.6 573.5,35.9 574.9,35.2 576.2,34.5 577.5,33.9 578.9,33.2 580.2,32.6 581.6,31.9 582.9,31.3 584.3,30.7 585.7,30.1 587.1,29.5 588.5,28.9 589.8,28.4 591.2,27.8 592.6,27.3 594.0,26.7 595.4,26.2 596.8,25.7 598.2,25.1 599.7,24.6 601.1,24.1 602.5,23.6 603.9,23.1 605.3,22.7 606.8,22.2 608.2,21.7 609.6,21.3 611.0,20.8 612.5,20.4 613.9,19.9 615.3,19.5 616.8,19.1 618.2,18.7 619.7,18.3 621.1,17.9 622.6,17.5 624.0,17.1 625.5,16.7 626.9,16.4 628.4,16.0 629.8,15.7 631.3,15.3 632.8,15.0 634.2,14.7 635.7,14.4 637.2,14.1 638.6,13.8 640.1,13.4 641.6,13.2 643.0,12.9 644.5,12.6 646.0,12.3 647.5,12.0 648.9,11.7 650.4,11.5 651.9,11.2 653.4,10.9 654.8,10.7 656.3,10.4 657.8,10.2 659.3,9.9 660.8,9.7 662.3,9.5 663.7,9.2 665.2,9.0 666.7,8.8 668.2,8.6 669.7,8.4 671.2,8.2 672.7,8.1 674.1,7.9 675.6,7.7 677.1,7.6 678.6,7.4 680.1,7.3 681.6,7.1 682.6,7.0" fill="none" stroke="#a86ce4" stroke-width="1.85" stroke-linejoin="round"/>
<path d="M375.4,4 V258.2 H684" stroke="#222" stroke-width="1" fill="none"/>
<path d="M372.9,6.5 H375.4" stroke="#222" stroke-width="1.1"/>
<path d="M370.4,56.4 H375.4" stroke="#222" stroke-width="1.1"/>
<path d="M372.9,106.3 H375.4" stroke="#222" stroke-width="1.1"/>
<path d="M370.4,156.2 H375.4" stroke="#222" stroke-width="1.1"/>
<path d="M372.9,205.8 H375.4" stroke="#222" stroke-width="1.1"/>
<path d="M370.4,255.9 H375.4" stroke="#222" stroke-width="1.1"/>
<path d="M413,258.2 v2.5" stroke="#222" stroke-width="1.1"/>
<path d="M451.4,258.2 v4.8" stroke="#222" stroke-width="1.1"/>
<path d="M490.1,258.2 v2.5" stroke="#222" stroke-width="1.1"/>
<path d="M528.7,258.2 v4.8" stroke="#222" stroke-width="1.1"/>
<path d="M567.4,258.2 v2.5" stroke="#222" stroke-width="1.1"/>
<path d="M606.1,258.2 v4.8" stroke="#222" stroke-width="1.1"/>
<path d="M644.8,258.2 v2.5" stroke="#222" stroke-width="1.1"/>
<text x="367" y="59.8" font-size="10.6" text-anchor="end" font-family="Liberation Sans, Arial, sans-serif" fill="#111" stroke="#111" stroke-width="0.1">0,8</text>
<text x="367" y="159.8" font-size="10.6" text-anchor="end" font-family="Liberation Sans, Arial, sans-serif" fill="#111" stroke="#111" stroke-width="0.1">0,4</text>
<text x="367" y="259.0" font-size="10.6" text-anchor="end" font-family="Liberation Sans, Arial, sans-serif" fill="#111" stroke="#111" stroke-width="0.1">0,0</text>
<text transform="translate(365.9,45.5) rotate(-90)" font-size="12.8" font-family="Liberation Sans, Arial, sans-serif" fill="#0c0c0c" stroke="#0c0c0c" stroke-width="0.25">T/T<tspan font-size="8.8" dy="4.2">max</tspan></text>
<text x="451.4" y="275.1" font-size="10.6" text-anchor="middle" font-family="Liberation Sans, Arial, sans-serif" fill="#111" stroke="#111" stroke-width="0.1">300</text>
<text x="528.6" y="275.1" font-size="10.6" text-anchor="middle" font-family="Liberation Sans, Arial, sans-serif" fill="#111" stroke="#111" stroke-width="0.1">400</text>
<text x="606.0" y="275.1" font-size="10.6" text-anchor="middle" font-family="Liberation Sans, Arial, sans-serif" fill="#111" stroke="#111" stroke-width="0.1">500</text>
<text x="619.5" y="275.3" font-size="14" font-family="Liberation Serif, Times New Roman, serif" fill="#111">λ<tspan font-family="Liberation Sans, Arial, sans-serif" font-size="13">, nm</tspan></text>
<text x="512.8" y="292" font-size="19.5" text-anchor="middle" font-family="Liberation Serif, Times New Roman, serif" fill="#111">b</text>
<text x="403.2" y="253.6" font-size="11.8" font-family="Liberation Serif, Times New Roman, serif" fill="#111">UVC</text>
<text x="435.3" y="252.8" font-size="11.8" font-family="Liberation Serif, Times New Roman, serif" fill="#111">UVB</text>
<text x="486" y="252.8" font-size="11.8" style="font-kerning:none" letter-spacing="0.2" font-family="Liberation Serif, Times New Roman, serif" fill="#111">UVA</text>
<path d="M560.8,87.9 H591.5" stroke="#444444" stroke-width="1.8"/>
<text x="595.8" y="92.7" font-size="14" font-family="Liberation Sans, Arial, sans-serif" fill="#0c0c0c" stroke="#0c0c0c" stroke-width="0.25">Ref</text>
<path d="M560.8,104.2 H591.5" stroke="#e8373b" stroke-width="1.8"/>
<text x="594.8" y="109.0" font-size="14" font-family="Liberation Sans, Arial, sans-serif" fill="#0c0c0c" stroke="#0c0c0c" stroke-width="0.25">2EKL-C1</text>
<path d="M560.8,120.5 H591.5" stroke="#1d62d9" stroke-width="1.8"/>
<text x="594.8" y="125.3" font-size="14" font-family="Liberation Sans, Arial, sans-serif" fill="#0c0c0c" stroke="#0c0c0c" stroke-width="0.25">5EKL-C1</text>
<path d="M560.8,136.8 H591.5" stroke="#2fa35c" stroke-width="1.8"/>
<text x="595.6" y="141.6" font-size="14" font-family="Liberation Sans, Arial, sans-serif" fill="#0c0c0c" stroke="#0c0c0c" stroke-width="0.25">10EKL-C1</text>
<path d="M560.8,153.1 H591.5" stroke="#a86ce4" stroke-width="1.8"/>
<text x="595.6" y="157.9" font-size="14" font-family="Liberation Sans, Arial, sans-serif" fill="#0c0c0c" stroke="#0c0c0c" stroke-width="0.25">15EKL-C1</text>
</svg>
</body></html>
